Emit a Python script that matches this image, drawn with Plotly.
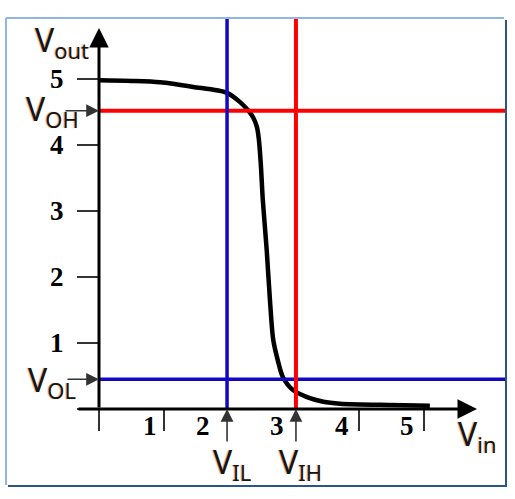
import plotly.graph_objects as go

# ---------------- data ----------------
vin = [0.0, 0.5, 0.94, 1.45, 1.97, 2.17, 2.29, 2.37, 2.43, 2.46, 2.49, 2.52, 2.58, 2.63,
       2.68, 2.75, 2.83, 2.98, 3.2, 3.45, 3.71, 4.48, 5.09]
vout = [4.98, 4.97, 4.95, 4.88, 4.79, 4.65, 4.53, 4.42, 4.27, 4.08, 3.7, 3.17, 2.41, 1.65,
        1.05, 0.74, 0.48, 0.29, 0.18, 0.11, 0.08, 0.06, 0.05]
x_tick_vals = [1, 2, 3, 4, 5]
x_tick_labels = ["1", "2", "3", "4", "5"]
y_tick_vals = [1, 2, 3, 4, 5]
y_tick_labels = ["1", "2", "3", "4", "5"]
V_IL = 1.97
V_IH = 3.03
V_OH = 4.52
V_OL = 0.45

# ---------------- geometry / style ----------------
W, H = 515, 499
ML, MR, MT, MB = 99, 10, 19, 90
PX_X, PX_Y = 65, 66
plot_w = W - ML - MR
plot_h = H - MT - MB
x_max = plot_w / PX_X
y_max = plot_h / PX_Y


def px2x(px):
    return (px - ML) / PX_X


def py2y(py):
    return (H - MB - py) / PX_Y


def px2p(px):
    return (px - ML) / plot_w


def py2p(py):
    return (H - MB - py) / plot_h


RED = "#ff0000"
BLUE = "#1208c4"
LABEL_FONT = dict(family="Noto Sans", size=32, color="#151515",
                  shadow="-1px 0px 1px rgba(225,140,40,0.8)")
TICK_FONT = dict(family="Liberation Serif", size=27, color="black", weight="bold")


def var_label(main, sub):
    return f"{main}<sub><span style='font-size:22px'>{sub}</span></sub>"


fig = go.Figure()
fig.add_trace(go.Scatter(x=vin, y=vout, mode="lines",
                         line=dict(color="black", width=4.5, shape="spline", smoothing=0.8),
                         hoverinfo="skip", showlegend=False))

shapes = []
shapes.append(dict(type="line", xref="paper", yref="y", x0=0, x1=1, y0=V_OH, y1=V_OH,
                   line=dict(color=RED, width=4)))
shapes.append(dict(type="line", xref="paper", yref="y", x0=0, x1=1, y0=V_OL, y1=V_OL,
                   line=dict(color=BLUE, width=3.5)))
shapes.append(dict(type="line", xref="x", yref="paper", x0=V_IL, x1=V_IL, y0=0, y1=1,
                   line=dict(color=BLUE, width=3.5)))
shapes.append(dict(type="line", xref="x", yref="paper", x0=V_IH, x1=V_IH, y0=0, y1=1,
                   line=dict(color=RED, width=4)))
LIGHT = "#8fb6e4"
DARK = "#2a5585"
shapes.append(dict(type="line", xref="paper", yref="paper", x0=px2p(6), x1=px2p(504),
                   y0=py2p(18), y1=py2p(18), line=dict(color=LIGHT, width=2)))
shapes.append(dict(type="line", xref="paper", yref="paper", x0=px2p(6), x1=px2p(6),
                   y0=py2p(18), y1=py2p(485), line=dict(color=LIGHT, width=2)))
shapes.append(dict(type="line", xref="paper", yref="paper", x0=px2p(506), x1=px2p(506),
                   y0=py2p(20), y1=py2p(487), line=dict(color=DARK, width=2)))
shapes.append(dict(type="line", xref="paper", yref="paper", x0=px2p(8), x1=px2p(506),
                   y0=py2p(486), y1=py2p(486), line=dict(color=DARK, width=2)))

ann = []
ann.append(dict(x=px2x(477), y=0, ax=px2x(77), ay=0, xref="x", yref="y", axref="x", ayref="y",
                text="", showarrow=True, arrowhead=2, arrowsize=1.3, arrowwidth=3,
                arrowcolor="black"))
ann.append(dict(x=0, y=py2y(28), ax=0, ay=0, xref="x", yref="y", axref="x", ayref="y",
                text="", showarrow=True, arrowhead=2, arrowsize=1.3, arrowwidth=3,
                arrowcolor="black"))
SMALL = dict(text="", showarrow=True, arrowhead=2, arrowsize=1.6, arrowwidth=1.6,
             arrowcolor="#333333", xref="x", yref="y")
ann.append(dict(x=0, y=V_OH, ax=-35, ay=0, **SMALL))
ann.append(dict(x=0, y=V_OL, ax=-33, ay=0, **SMALL))
ann.append(dict(x=V_IL, y=0, ax=0, ay=34, **SMALL))
ann.append(dict(x=V_IH, y=0, ax=0, ay=34, **SMALL))

label_dx = [-14, -26, -17, -17, -17]
for v, t, dx in zip(x_tick_vals, x_tick_labels, label_dx):
    ann.append(dict(x=v, y=0, xref="x", yref="y", text=t, showarrow=False,
                    xshift=dx, yshift=-17, font=TICK_FONT))

ann.append(dict(x=0, y=1, xref="x", yref="paper", text=var_label("V", "out"), showarrow=False,
                xanchor="right", yanchor="top", xshift=-8, yshift=3, font=LABEL_FONT))
ann.append(dict(x=0, y=V_OH, xref="x", yref="y", text=var_label("V", "OH"), showarrow=False,
                xanchor="right", yanchor="middle", xshift=-18, yshift=0, font=LABEL_FONT))
ann.append(dict(x=0, y=V_OL, xref="x", yref="y", text=var_label("V", "OL"), showarrow=False,
                xanchor="right", yanchor="middle", xshift=-21, yshift=-2, font=LABEL_FONT))
ann.append(dict(x=V_IL, y=0, xref="x", yref="y", text=var_label("V", "IL"), showarrow=False,
                xanchor="left", yanchor="top", xshift=-16, yshift=-29, font=LABEL_FONT))
ann.append(dict(x=V_IH, y=0, xref="x", yref="y", text=var_label("V", "IH"), showarrow=False,
                xanchor="left", yanchor="top", xshift=-19, yshift=-29, font=LABEL_FONT))
ann.append(dict(x=px2x(456), y=0, xref="x", yref="y", text=var_label("V", "in"), showarrow=False,
                xanchor="left", yanchor="top", yshift=-1, font=LABEL_FONT))

fig.update_layout(
    width=W, height=H,
    margin=dict(l=ML, r=MR, t=MT, b=MB),
    paper_bgcolor="white", plot_bgcolor="white",
    shapes=shapes, annotations=ann, showlegend=False,
    xaxis=dict(range=[0, x_max], showgrid=False, zeroline=False, showline=False,
               tickvals=[0, 1, 4, 5], ticks="outside", ticklen=21, tickwidth=2,
               tickcolor="#333333", showticklabels=False, fixedrange=True),
    yaxis=dict(range=[0, y_max], showgrid=False, zeroline=False, showline=False,
               tickvals=[0] + y_tick_vals, ticktext=[""] + y_tick_labels,
               ticks="outside", ticklen=21, tickwidth=2, tickcolor="#333333",
               tickfont=TICK_FONT, ticklabelstandoff=8, fixedrange=True),
)

fig.write_html("out.html", config={"displayModeBar": False},
               post_script="document.body.style.margin='0px';")
